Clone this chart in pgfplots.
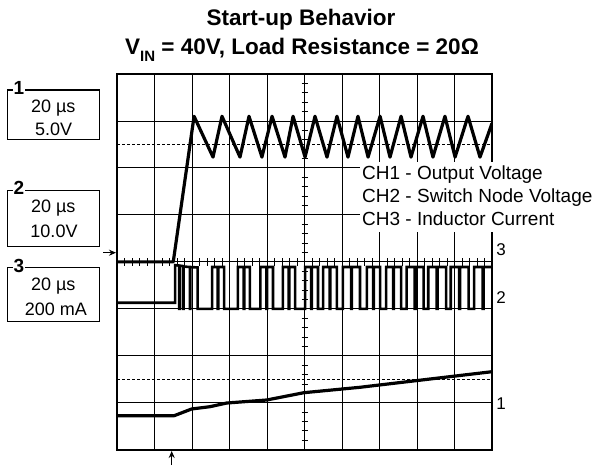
\documentclass[border=0pt]{standalone}
\usepackage{fontspec}
\setmainfont{Liberation Sans}
\usepackage{pgfplots}
\pgfplotsset{compat=1.18}
\usetikzlibrary{arrows.meta}
\begin{document}
\begin{tikzpicture}[x=1pt,y=1pt]
\path[use as bounding box] (0,0) rectangle (599,466);
\begin{axis}[at={(117pt,16.3pt)}, anchor=south west, scale only axis,
  width=375pt, height=375.7pt,
  xmin=0, xmax=200, ymin=0, ymax=8,
  xtick={0,20,...,200}, ytick={0,1,...,8},
  xticklabels={}, yticklabels={},
  major tick length=0pt,
  grid=major, grid style={black, line width=0.9pt},
  axis line style={line width=2pt}]
% center graticule ticks
\pgfplotsinvokeforeach{0,4,...,200}{\draw[line width=0.9pt] (axis cs:#1,3.915) -- (axis cs:#1,4.085);}
\pgfplotsinvokeforeach{0,0.2,...,8}{\draw[line width=0.9pt] (axis cs:98.4,#1) -- (axis cs:101.6,#1);}
% dashed reference levels
\addplot[black, line width=1.1pt, dash pattern=on 3pt off 2pt] coordinates {(0,6.5) (200,6.5)};
\addplot[black, line width=1.1pt, dash pattern=on 3pt off 2pt] coordinates {(0,1.5) (200,1.5)};
% CH1 output voltage
\addplot[black, line width=3.2pt, line join=round] coordinates {
(0,4.0) (30,4.0) (41.1,7.1) (51.2,6.23) (56,7.1) (65.6,6.23) (70.4,7.1)
(77.3,6.23) (82.7,7.1) (89.6,6.23) (93.9,7.1) (100.3,6.23) (105.6,7.1)
(112,6.23) (117.3,7.1) (123.2,6.23) (128.5,7.1) (133.9,6.23) (140.3,7.1)
(145.6,6.23) (151.5,7.1) (156.8,6.23) (163.2,7.1) (168.5,6.23) (174.9,7.1)
(180.3,6.23) (187.2,7.1) (193.6,6.23) (200,6.95)};
% CH2 switch node voltage
\addplot[black, line width=2.6pt, line join=miter] coordinates {
(0,3.13) (31,3.13) (31,3.93) (33.1,3.92) (33.1,3.0) (33.4,3.0) (33.4,3.92)
(35.2,3.91) (35.2,3.0) (35.5,3.0) (35.5,3.9) (38.9,3.89) (38.9,3.0) (39.1,3.0)
(39.1,3.89) (43,3.88) (43,3.0)
(50.7,3.0) (50.7,3.89) (53.7,3.89) (53.7,3.0) (54.1,3.0) (54.1,3.89) (57.1,3.89) (57.1,3.0)
(64.5,3.0) (64.5,3.89) (67.5,3.89) (67.5,3.0) (67.9,3.0) (67.9,3.89) (70.9,3.89) (70.9,3.0)
(76.5,3.0) (76.5,3.89) (79.65,3.89) (79.65,3.0) (80.05,3.0) (80.05,3.89) (83.2,3.89) (83.2,3.0)
(88.5,3.0) (88.5,3.89) (91.55,3.89) (91.55,3.0) (91.95,3.0) (91.95,3.89) (95,3.89) (95,3.0)
(100.3,3.0) (100.3,3.89) (103.55,3.89) (103.55,3.0) (103.95,3.0) (103.95,3.89) (107.2,3.89) (107.2,3.0)
(109.9,3.0) (109.9,3.89) (113.4,3.89) (113.4,3.0) (113.8,3.0) (113.8,3.89) (117.3,3.89) (117.3,3.0)
(120.5,3.0) (120.5,3.89) (124.85,3.89) (124.85,3.0) (125.25,3.0) (125.25,3.89) (129.6,3.89) (129.6,3.0)
(133.3,3.0) (133.3,3.89) (136.6,3.89) (136.6,3.0) (137,3.0) (137,3.89) (140.3,3.89) (140.3,3.0)
(143.5,3.0) (143.5,3.89) (147.3,3.89) (147.3,3.0) (147.7,3.0) (147.7,3.89) (151.5,3.89) (151.5,3.0)
(154.5,3.0) (154.5,3.89) (158.8,3.89) (158.8,3.0) (159.2,3.0) (159.2,3.89) (163.5,3.89) (163.5,3.0)
(166,3.0) (166,3.89) (170.55,3.89) (170.55,3.0) (170.95,3.0) (170.95,3.89) (175.5,3.89) (175.5,3.0)
(178,3.0) (178,3.89) (182.55,3.89) (182.55,3.0) (182.95,3.0) (182.95,3.89) (187.5,3.89) (187.5,3.0)
(190.5,3.0) (190.5,3.89) (195.05,3.89) (195.05,3.0) (195.45,3.0) (195.45,3.89) (200,3.89)};
% CH3 inductor current
\addplot[black, line width=3.2pt, line join=round] coordinates {
(0,0.724) (30.5,0.724) (39.8,0.867) (49.6,0.916) (58.5,0.994) (79.8,1.058)
(99.7,1.214) (129.6,1.329) (200,1.661)};
\end{axis}
% legend area
\fill[white] (360,234) rectangle (599,304);
\begin{scope}[every node/.style={inner sep=0pt, font=\fontsize{19}{22}\selectfont}]
\node[anchor=base west] at (362,286.7) {CH1 - Output Voltage};
\node[anchor=base west] at (362,263.7) {CH2 - Switch Node Voltage};
\node[anchor=base west] at (362,240.3) {CH3 - Inductor Current};
\end{scope}
% title
\node[font=\fontsize{22.5}{26}\selectfont\bfseries] at (301,446) {Start-up Behavior};
\node[font=\fontsize{22.5}{26}\selectfont\bfseries] at (302,416) {V\raisebox{-0.28em}{\fontsize{15}{15}\selectfont IN} = 40V, Load Resistance = 20Ω};
% channel boxes
\draw[line width=1.1pt] (7.3,376) rectangle (99.3,326.7);
\draw[line width=1.1pt] (7.3,275.3) rectangle (99.3,219.3);
\draw[line width=1.1pt] (7.3,198.3) rectangle (99.3,144.3);
\node[fill=white, inner sep=1.2pt, font=\fontsize{19}{20}\selectfont\bfseries] at (19,378.5) {1};
\node[fill=white, inner sep=1.2pt, font=\fontsize{19}{20}\selectfont\bfseries] at (19,278) {2};
\node[fill=white, inner sep=1.2pt, font=\fontsize{19}{20}\selectfont\bfseries] at (19,200.5) {3};
\begin{scope}[every node/.style={inner sep=0pt, font=\fontsize{18}{20}\selectfont}]
\node at (53.3,358) {20 µs};
\node at (53.6,337) {5.0V};
\node at (53.3,258) {20 µs};
\node at (54,235) {10.0V};
\node at (53.3,180) {20 µs};
\node at (56,157) {200 mA};
\end{scope}
% right channel markers
\begin{scope}[every node/.style={inner sep=0pt, font=\fontsize{17}{20}\selectfont}]
\node at (501,216.7) {3};
\node at (501,168.3) {2};
\node at (501,62) {1};
\end{scope}
% arrows
\draw[line width=1.2pt, -{Stealth[length=7pt,width=6pt]}] (103,213.3) -- (116,213.3);
\draw[line width=1.2pt, -{Stealth[length=7pt,width=6pt]}] (171.7,1) -- (171.7,15);
\end{tikzpicture}
\end{document}
